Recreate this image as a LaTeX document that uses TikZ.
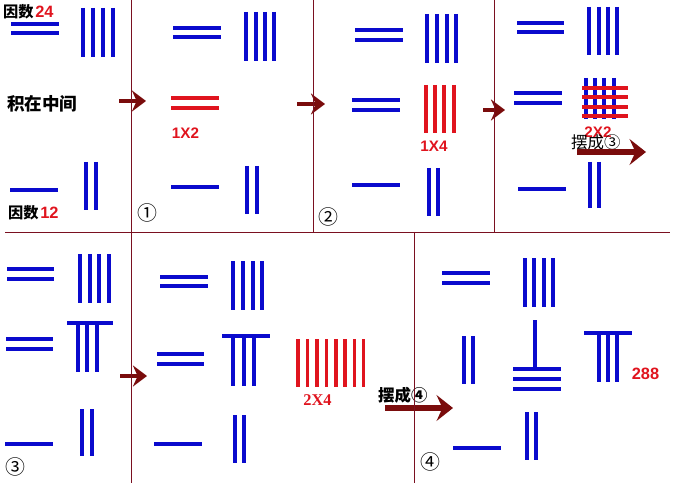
\documentclass[tikz,border=0pt]{standalone}
\usepackage{fontspec}
\setmainfont{Liberation Sans}
\newfontfamily\cjk{Noto Sans CJK SC}
\newfontfamily\timesnum{Liberation Serif}
\usetikzlibrary{arrows.meta, positioning}
\definecolor{rodblue}{HTML}{0A0ACD}
\definecolor{rodred}{HTML}{E0141E}
\definecolor{arrowred}{HTML}{7A0C0C}
\definecolor{rulered}{HTML}{7A1020}

% a group of rods: [style]{from}{to}{positions}
\newcommand{\hrods}[4][rodb]{\foreach \yy in {#4} \draw[#1] (#2,\yy) -- (#3,\yy);}
\newcommand{\vrods}[4][rodb]{\foreach \xx in {#2} \draw[#1] (\xx,#3) -- (\xx,#4);}

\begin{document}
\begin{tikzpicture}[
        x=0.03cm, y=-0.03cm,
        rodb/.style={line width=3.3pt, rodblue},
        rodr/.style={line width=3.3pt, rodred},
        rule/.style={line width=0.8pt, rulered},
        lab/.style={inner sep=0pt, font=\cjk\bfseries\fontsize{13}{15}\selectfont},
        num/.style={inner sep=0pt, text=rodred, font=\bfseries\fontsize{14}{16}\selectfont},
        prod/.style={inner sep=0pt, text=rodred, font=\bfseries\fontsize{13}{15}\selectfont},
        circ/.style={inner sep=0pt, font=\cjk\fontsize{17}{19}\selectfont},
        move/.style={arrowred, line width=4.2pt, -{Stealth[length=12pt, width=18pt, inset=4pt]}},
        bigmove/.style={arrowred, line width=4.4pt, -{Stealth[length=14pt, width=22pt, inset=5pt]}}
    ]
    \useasboundingbox (0,0) rectangle (674,483);

    % factors and product place
    \node (fa) [lab, anchor=west] at (3,12) {因数};
    \node (fa24) [num, right=1pt of fa] {24};
    \node (fb) [lab, anchor=west] at (8,213) {因数};
    \node (fb12) [num, right=1pt of fb] {12};
    \node (mid) [lab, anchor=west, font=\cjk\bfseries\fontsize{15}{17}\selectfont] at (7,104) {积在中间};
    \hrods{11}{59}{24,33}
    \vrods{83,93,103,113}{8}{57}
    \hrods{10}{58}{190}
    \vrods{86,96}{162}{210}

    % step 1
    \hrods{173}{221}{28,37}
    \vrods{246,256,265,274}{12}{61}
    \hrods[rodr]{171}{219}{98,108}
    \node (p1) [prod] at (185.5,133) {1X2};
    \hrods{171}{219}{187}
    \vrods{247,257}{166}{214}
    \node (c1) [circ] at (147,213) {①};

    % step 2
    \hrods{355}{403}{30,40}
    \vrods{427,437,447,456}{14}{63}
    \hrods{352}{400}{100,110}
    \vrods[rodr]{426,435,444,454}{85}{133}
    \node (p2) [prod] at (434,146) {1X4};
    \hrods{352}{400}{185}
    \vrods{429,438}{168}{216}
    \node (c2) [circ] at (328,217) {②};

    % step 3
    \hrods{517}{564}{23,32}
    \vrods{589,599,608,617}{7}{55}
    \hrods{514}{562}{93,103}
    \vrods{586,595,604,614}{78}{119}
    \hrods[rodr]{582}{628}{88,97,107,116}
    \node (p3) [prod] at (598,132) {2X2};
    \node (set3) [lab, anchor=west, font=\cjk\fontsize{14}{16}\selectfont] at (571,142) {摆成③};
    \hrods{518}{566}{189}
    \vrods{590,599}{162}{208}

    % step 3, laid out
    \hrods{7}{54}{269,279}
    \vrods{80,90,99,109}{254}{303}
    \hrods{6}{53}{339,349}
    \hrods{67}{113}{323}
    \vrods{78,87,97}{325}{372}
    \hrods{5}{53}{444}
    \vrods{82,92}{409}{456}
    \node (c3) [circ] at (15,467) {③};

    % step 4
    \hrods{160}{208}{277,286}
    \vrods{233,243,253,262}{261}{310}
    \hrods{157}{204}{354,364}
    \hrods{222}{270}{336}
    \vrods{233,244,254}{337}{386}
    \vrods[rodr]{298,307.5,317,326.5,336,345,354.5,363.5}{339}{387}
    \node (p4) [prod, font=\timesnum\bfseries\fontsize{14}{16}\selectfont] at (317.5,400) {2X4};
    \hrods{154}{202}{444}
    \vrods{235,244}{415}{463}
    \node (set4) [lab, anchor=west, font=\cjk\bfseries\fontsize{14}{16}\selectfont] at (378,395) {摆成④};

    % result 288
    \hrods{442}{490}{273,283}
    \vrods{525,534,544,553}{258}{307}
    \vrods{464,473}{336}{384}
    \vrods{535}{320}{368}
    \hrods{513}{561}{369,379,389}
    \hrods{584}{632}{333}
    \vrods{599,608,617}{333}{382}
    \node (res) [num] at (645.5,374) {288};
    \hrods{453}{501}{448}
    \vrods{527,536}{412}{460}
    \node (c4) [circ] at (430,462) {④};

    % arrows
    \coordinate (a1s) at (119,101);  \coordinate (a1e) at (146,101);
    \coordinate (a2s) at (297,104);  \coordinate (a2e) at (325,104);
    \coordinate (a3s) at (483,110);  \coordinate (a3e) at (505,110);
    \coordinate (a4s) at (120,376);  \coordinate (a4e) at (147,376);
    \coordinate (b3s) at (577,152);  \coordinate (b3e) at (646,152);
    \coordinate (b4s) at (385,408);  \coordinate (b4e) at (453,408);
    \draw [move] (a1s) -- (a1e);
    \draw [move] (a2s) -- (a2e);
    \draw [move] (a3s) -- (a3e);
    \draw [move] (a4s) -- (a4e);
    \draw [bigmove] (b3s) -- (b3e);
    \draw [bigmove] (b4s) -- (b4e);

    % frame lines
    \draw [rule] (5,232) -- (670,232);
    \draw [rule] (131,0) -- (131,483);
    \draw [rule] (313,0) -- (313,232);
    \draw [rule] (494,0) -- (494,232);
    \draw [rule] (414,232) -- (414,483);
\end{tikzpicture}
\end{document}
